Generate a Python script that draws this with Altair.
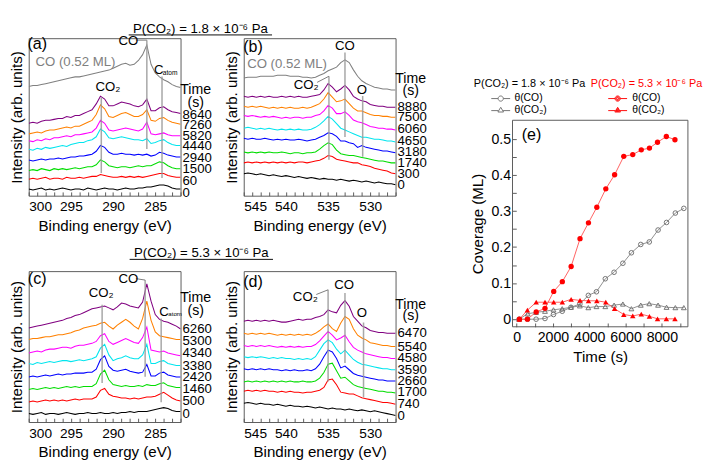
import altair as alt
import pandas as pd

FONT = "Liberation Sans"
COLORS = ["#000000", "#ff0000", "#00dd00", "#0000ff", "#00e5ee", "#ff00ff", "#ff8000", "#800080"]
GRAY = "#808080"

E_C = [300.0, 299.5, 299.0, 298.5, 298.0, 297.5, 297.0, 296.5, 296.0, 295.5, 295.0, 294.5, 294.0,
       293.5, 293.0, 292.5, 292.0, 291.5, 291.0, 290.5, 290.0, 289.5, 289.0, 288.5, 288.0, 287.5,
       287.0, 286.5, 286.0, 285.5, 285.0, 284.5, 284.0, 283.5, 283.0, 282.5, 282.0]
E_O = [545.0, 544.5, 544.0, 543.5, 543.0, 542.5, 542.0, 541.5, 541.0, 540.5, 540.0, 539.5, 539.0,
       538.5, 538.0, 537.5, 537.0, 536.5, 536.0, 535.5, 535.0, 534.5, 534.0, 533.5, 533.0, 532.5,
       532.0, 531.5, 531.0, 530.5, 530.0, 529.5, 529.0, 528.5, 528.0, 527.5, 527.0]
TICKS_C = [282, 283, 284, 285, 286, 287, 288, 289, 290, 291, 292, 293, 294, 295, 296, 297, 298, 299, 300]
TICKS_O = [527, 528, 529, 530, 531, 532, 533, 534, 535, 536, 537, 538, 539, 540, 541, 542, 543, 544, 545]

# ---------------- panel (a): C 1s, 1.8e-6 Pa ----------------
TIMES_A = ["0", "60", "1500", "2940", "4440", "5820", "7260", "8640"]
CURVES_A = [
    [7,6,7,8,6,7,6,7,8,7,6,7,7,6,8,7,6,7,8,7,7,6,7,8,7,7,8,8,9,9,10,11,11,10,8,7,7],
    [17,18,17,18,19,17,18,18,17,19,18,18,19,18,19,20,20,22,21,20,19,19,20,19,20,19,20,19,20,21,22,23,23,21,20,19,19],
    [26,27,26,28,27,26,28,27,28,27,28,29,28,29,30,30,32,37,35,31,30,29,30,30,29,30,31,30,31,31,33,35,34,31,29,28,28],
    [37,36,37,38,37,38,38,39,38,39,40,40,41,41,42,43,46,52,50,45,43,43,44,43,43,42,43,42,43,41,42,45,44,42,41,40,40],
    [48,47,49,48,50,49,50,51,52,51,53,54,55,55,57,58,61,69,66,60,59,60,61,60,59,58,58,57,59,54,55,57,58,55,53,52,52],
    [57,56,58,57,59,58,60,60,61,62,61,63,63,64,65,66,70,78,75,68,67,68,69,70,69,68,67,69,76,64,63,64,65,63,62,62,62],
    [64,65,66,65,67,68,68,69,70,71,70,72,72,74,76,78,84,94,90,82,81,83,85,86,84,82,82,84,89,78,77,80,81,78,76,75,74],
    [75,76,75,77,78,78,79,80,80,82,81,83,83,85,87,89,95,103,100,93,93,95,97,96,95,93,92,94,100,88,88,91,92,89,87,86,85],
]
GRAY_A = [113,114,114,115,116,117,118,119,120,121,122,123,123,124,125,126,127,128,129,130,132,134,136,137,135,136,140,146,156,136,127,123,120,118,115,113,112]
LABV_A = [2.7, 15, 27.4, 39, 51, 61.7, 73.4, 83.4]
HDR_A = [110, 96.7]

# ---------------- panel (b): O 1s, 1.8e-6 Pa ----------------
TIMES_B = ["0", "300", "1740", "3180", "4650", "6060", "7500", "8880"]
CURVES_B = [
    [24,25,24,23,24,23,22,23,22,21,22,21,20,21,20,19,20,19,18,19,18,18,17,18,17,16,17,16,15,16,15,14,15,14,13,13,12],
    [36,37,36,37,36,37,36,37,36,37,36,37,36,37,37,36,37,38,39,41,44,43,40,39,38,37,36,36,34,33,32,30,29,28,27,25,24],
    [48,47,48,47,48,47,48,47,47,48,47,46,47,47,46,47,47,48,51,55,58,56,50,46,45,44,44,43,42,41,40,39,38,38,37,36,36],
    [63,62,63,62,62,63,62,61,62,61,62,61,61,62,61,60,61,62,64,66,69,68,65,60,60,58,57,53,55,53,52,51,50,49,49,48,47],
    [74,75,74,73,74,73,74,73,72,73,72,73,72,73,72,72,73,75,78,82,87,84,79,74,72,70,68,66,64,64,63,62,62,61,60,60,59],
    [88,87,88,87,86,87,86,87,86,85,86,85,86,86,85,86,86,88,89,93,99,96,90,90,92,88,83,81,80,78,76,75,74,74,73,73,72],
    [98,97,98,97,98,97,96,97,96,97,96,97,96,96,97,96,97,99,101,106,113,108,103,104,106,101,96,93,93,91,89,88,88,87,87,86,86],
    [109,108,109,108,109,108,109,108,108,109,108,109,108,109,108,108,109,110,111,116,123,119,114,117,121,116,109,106,104,103,100,99,98,98,97,97,97],
]
GRAY_B = [129,130,130,130,131,131,131,131,132,132,132,131,131,131,130,130,129,130,132,134,137,139,141,146,149,146,138,131,126,123,121,119,118,117,117,116,116]
LABV_B = [11, 23.3, 36, 47.7, 60, 72.7, 86, 96.7]
HDR_B = [129.3, 116]

# ---------------- panel (c): C 1s, 5.3e-6 Pa ----------------
TIMES_C = ["0", "500", "1460", "2420", "3380", "4340", "5300", "6260"]
CURVES_C = [
    [9,8,9,10,8,9,9,8,9,10,9,8,9,9,10,9,9,10,9,9,10,9,10,10,11,10,11,11,11,12,13,14,15,14,12,11,11],
    [21,22,21,22,23,22,23,22,23,22,23,24,23,24,24,24,26,33,35,29,27,26,25,25,24,25,24,25,26,26,27,29,31,28,25,23,22],
    [34,35,34,35,36,35,36,35,36,37,36,37,36,37,37,37,40,50,54,44,39,38,37,38,37,37,38,37,39,38,38,40,41,38,37,36,36],
    [47,48,47,48,49,48,49,50,49,50,50,51,51,51,52,52,55,65,69,58,54,53,54,55,53,52,51,52,60,48,48,51,52,49,48,47,47],
    [61,60,62,61,62,63,62,63,64,64,63,64,65,64,65,66,68,77,81,70,64,66,67,69,67,66,66,70,81,61,61,63,64,61,60,59,59],
    [72,73,74,73,75,76,76,77,78,78,77,79,80,80,81,82,84,90,92,84,81,83,85,87,85,83,82,88,99,75,74,73,74,72,71,70,69],
    [86,87,87,88,89,89,90,91,91,92,93,95,96,98,99,100,101,103,104,100,97,101,104,107,104,100,97,108,126,106,94,90,89,88,87,86,86],
    [98,99,100,101,102,103,104,105,106,108,109,111,112,114,116,118,119,120,121,119,117,120,124,123,121,120,119,125,144,126,112,107,105,104,102,100,97],
]
LABV_C = [8.3, 21.3, 34, 46.7, 58.3, 71.3, 84, 96.7]
HDR_C = [130, 116.7]

# ---------------- panel (d): O 1s, 5.3e-6 Pa ----------------
TIMES_D = ["0", "740", "1700", "2660", "3590", "4580", "5540", "6470"]
CURVES_D = [
    [20,21,20,19,20,19,19,18,19,18,17,18,17,17,16,17,16,15,16,15,14,15,14,14,13,14,13,12,13,12,11,12,11,10,9,8,7],
    [33,34,33,34,33,34,33,33,32,33,32,33,32,32,31,32,32,33,34,37,45,46,40,32,31,30,30,28,26,25,24,23,22,21,21,20,19],
    [43,44,43,44,43,44,43,44,43,44,43,44,43,43,44,43,43,44,47,53,62,63,55,47,48,44,40,38,37,36,35,34,33,33,32,32,31],
    [57,56,57,56,57,56,57,56,56,55,56,55,56,55,55,56,55,57,62,70,77,75,68,58,60,56,52,50,49,48,47,46,45,45,44,44,44],
    [70,69,70,69,70,69,68,69,68,69,68,68,67,68,67,68,67,70,77,84,88,85,78,73,77,72,67,64,62,61,60,59,58,57,57,56,56],
    [82,81,82,81,82,81,82,81,80,81,80,81,80,81,80,81,81,83,87,92,97,93,88,90,93,86,80,77,75,73,72,71,70,69,69,68,68],
    [95,94,95,94,95,94,95,94,93,94,93,94,93,94,93,94,93,95,98,102,105,100,97,106,113,110,100,93,90,88,85,84,83,82,82,81,81],
    [108,109,108,109,108,109,108,109,108,107,107,108,109,110,109,110,110,112,113,115,120,118,117,125,130,124,113,108,103,101,98,97,96,96,95,95,95],
]
LABV_D = [6.7, 19.3, 31.6, 44, 56, 68.3, 80.6, 95]
HDR_D = [126.6, 114]

# ---------------- panel (e): coverage ----------------
T_GRAY = [135, 603, 1070, 1559, 2026, 2509, 2992, 3481, 3948, 4395, 4883, 5366, 5851, 6320, 6837, 7305, 7790, 8257, 8742, 9209]
CO_GRAY = [0, 0, 0, 0.002, 0.013, 0.022, 0.033, 0.042, 0.066, 0.076, 0.112, 0.130, 0.155, 0.184, 0.207, 0.214, 0.247, 0.268, 0.294, 0.307]
CO2_GRAY = [0, 0.015, 0.019, 0.022, 0.026, 0.029, 0.033, 0.037, 0.032, 0.035, 0.035, 0.039, 0.042, 0.029, 0.039, 0.043, 0.039, 0.033, 0.032, 0.032]
T_RED = [150, 590, 1075, 1560, 2040, 2515, 3000, 3490, 3955, 4415, 4910, 5395, 5900, 6395, 6865, 7315, 7760, 8245, 8720]
CO_RED = [0, 0, 0.020, 0.030, 0.077, 0.104, 0.146, 0.223, 0.267, 0.310, 0.361, 0.400, 0.451, 0.456, 0.469, 0.474, 0.490, 0.506, 0.497]
CO2_RED = [0, 0.025, 0.047, 0.047, 0.047, 0.047, 0.055, 0.052, 0.051, 0.051, 0.047, 0.029, 0.013, 0.009, 0.014, 0.008, 0.001, 0.001, 0.001]
E_XDOM = [-230, 9434]
E_YDOM = [-0.021, 0.551]

TITLE_1 = "P(CO\u2082) = 1.8 \u00d7 10\u207b\u2076 Pa"
TITLE_2 = "P(CO\u2082) = 5.3 \u00d7 10\u207b\u2076 Pa"
CO2 = "CO\u2082"

W = 161
H1 = 167
H2 = 160


def spectrum_panel(E, ticks, xdom, H, ph, curves, times, labv, hdr, gray,
                   vlines, leaders, texts, title_spec):
    rows = []
    for t, vals in zip(times, curves):
        for e, v in zip(E, vals):
            rows.append({"E": e, "v": v, "t": t})
    df = pd.DataFrame(rows)
    xsc = alt.Scale(domain=xdom, nice=False, zero=False)
    ysc = alt.Scale(domain=[0, H], nice=False, zero=False)
    X = alt.X("E:Q", scale=xsc, axis=alt.Axis(
        values=ticks, labelExpr="datum.value % 5 == 0 ? datum.value : ''",
        title="Binding energy (eV)", tickSize={"expr": "-4"}, labelPadding=9,
        labelFontSize=14.5, titleFontSize=16, titlePadding=5, tickColor="#555555"))
    Y = alt.Y("v:Q", scale=ysc, axis=alt.Axis(
        title="Intensity (arb. units)", labels=False, ticks=False,
        titleFontSize=16, titlePadding=5))
    layers = [alt.Chart(df).mark_line(strokeWidth=1.1, clip=True).encode(
        x=X, y=Y,
        color=alt.Color("t:N", scale=alt.Scale(domain=times, range=COLORS), legend=None))]
    if gray is not None:
        gdf = pd.DataFrame({"E": E, "v": gray})
        layers.append(alt.Chart(gdf).mark_line(strokeWidth=1.1, color=GRAY, clip=True).encode(x=X, y=Y))
    vdf = pd.DataFrame(vlines, columns=["E", "v", "v2"])
    layers.append(alt.Chart(vdf).mark_rule(color="#999999", strokeWidth=1.6, opacity=0.85).encode(
        x=X, y=Y, y2="v2:Q"))
    ldf = pd.DataFrame(leaders, columns=["E", "v", "E2", "v2"])
    layers.append(alt.Chart(ldf).mark_rule(color="#777777", strokeWidth=1).encode(
        x=X, y=Y, x2="E2:Q", y2="v2:Q"))
    lab = pd.DataFrame({"E": [xdom[1]] * len(times), "v": labv, "txt": times})
    layers.append(alt.Chart(lab).mark_text(align="left", baseline="middle", dx=2, fontSize=14,
                                           font=FONT, color="black").encode(x=X, y=Y, text="txt:N"))
    hdf = pd.DataFrame({"E": [xdom[1], xdom[1]], "v": hdr, "txt": ["Time", "(s)"]})
    layers.append(alt.Chart(hdf).mark_text(align="center", baseline="middle", dx=16, fontSize=15,
                                           font=FONT, color="black").encode(x=X, y=Y, text="txt:N"))
    for (e, v, txt, size, col, al) in texts:
        tdf = pd.DataFrame({"E": [e], "v": [v], "txt": [txt]})
        layers.append(alt.Chart(tdf).mark_text(align=al, baseline="middle", fontSize=size,
                                               font=FONT, color=col).encode(x=X, y=Y, text="txt:N"))
    if title_spec is not None:
        ttxt, cx, by, x0, x1, uy = title_spec
        one = pd.DataFrame({"k": [0]})
        layers.append(alt.Chart(one).mark_text(text=ttxt, align="center", baseline="alphabetic",
                                               fontSize=14, font=FONT, color="black").encode(
            x=alt.value(cx), y=alt.value(by)))
        layers.append(alt.Chart(one).mark_rule(color="black", strokeWidth=1).encode(
            x=alt.value(x0), x2=alt.value(x1), y=alt.value(uy)))
    return alt.layer(*layers).properties(width=W, height=ph)


pa = spectrum_panel(
    E_C, TICKS_C, [300, 282], 163, H1, CURVES_A, TIMES_A, LABV_A, HDR_A, GRAY_A,
    vlines=[(291.4, 101.7, 23.4), (286.0, 161, 48.4), (284.2, 123.4, 18.4)],
    leaders=[(287.3, 161, 286.0, 161)],
    texts=[(299.0, 156.7, "(a)", 17, "black", "center"),
           (299.2, 138.4, "CO (0.52 ML)", 14, GRAY, "left"),
           (290.6, 112.4, CO2, 14, "black", "center"),
           (288.2, 160, "CO", 14, "black", "center"),
           (284.6, 129.5, "C", 14, "black", "center"),
           (284.1, 126.5, "atom", 7, "black", "left")],
    title_spec=(TITLE_1, 182, -6, 106, 258, -3.5))

pb = spectrum_panel(
    E_O, TICKS_O, [545, 527], 172.7, H1, CURVES_B, TIMES_B, LABV_B, HDR_B, GRAY_B,
    vlines=[(534.9, 131, 39.3), (533.0, 157, 64.3), (530.9, 109.3, 42.7)],
    leaders=[(536.3, 124.3, 534.9, 131)],
    texts=[(543.9, 162.7, "(b)", 17, "black", "center"),
           (544.6, 143.7, "CO (0.52 ML)", 14, GRAY, "left"),
           (537.6, 121, CO2, 14, "black", "center"),
           (533.0, 163.5, "CO", 14, "black", "center"),
           (531.0, 115.5, "O", 14, "black", "center")],
    title_spec=None)

pc = spectrum_panel(
    E_C, TICKS_C, [300, 282], 157.3, H2, CURVES_C, TIMES_C, LABV_C, HDR_C, None,
    vlines=[(291.3, 122.3, 40.7), (286.2, 148, 47.3), (284.3, 108, 20.7)],
    leaders=[(287.3, 149.5, 286.2, 148)],
    texts=[(299.0, 149, "(c)", 17, "black", "center"),
           (291.4, 134, CO2, 14, "black", "center"),
           (288.2, 149, "CO", 14, "black", "center"),
           (283.95, 114.7, "C", 14, "black", "center"),
           (283.45, 112, "atom", 6.5, "black", "left")],
    title_spec=(TITLE_2, 183, -15, 107, 259, -12.5))

pd_ = spectrum_panel(
    E_O, TICKS_O, [545, 527], 161.6, H2, CURVES_D, TIMES_D, LABV_D, HDR_D, None,
    vlines=[(535.0, 141.6, 43.3), (533.0, 138.3, 63.3), (530.8, 106.6, 26.6)],
    leaders=[(536.4, 136.6, 535.0, 141.6)],
    texts=[(543.9, 150, "(d)", 17, "black", "center"),
           (537.7, 133.3, CO2, 14, "black", "center"),
           (533.1, 146.6, "CO", 14, "black", "center"),
           (531.0, 116, "O", 14, "black", "center")],
    title_spec=None)

# ---------------- panel (e) ----------------
E_CELL_H = 306     # cell spans from the top row's top to the frame bottom
E_FRAME_TOP = 87   # frame top inside the cell
ROW2_OFFSET = 247  # distance from top row's top to bottom row's top

df_e = pd.concat([
    pd.DataFrame({"time": T_GRAY, "cov": CO_GRAY, "s": "g_co"}),
    pd.DataFrame({"time": T_GRAY, "cov": CO2_GRAY, "s": "g_co2"}),
    pd.DataFrame({"time": T_RED, "cov": CO_RED, "s": "r_co"}),
    pd.DataFrame({"time": T_RED, "cov": CO2_RED, "s": "r_co2"}),
], ignore_index=True)

EX = alt.X("time:Q", scale=alt.Scale(domain=E_XDOM, nice=False, zero=False), axis=alt.Axis(
    values=[0, 1000, 2000, 3000, 4000, 5000, 6000, 7000, 8000, 9000],
    labelExpr="datum.value % 2000 == 0 ? datum.value : ''",
    title="Time (s)", tickSize={"expr": "-4"}, labelPadding=8, labelFontSize=15,
    titleFontSize=16, titlePadding=5, tickColor="#555555"))
EY = alt.Y("cov:Q", scale=alt.Scale(domain=E_YDOM, nice=False, zero=False, range=[E_CELL_H, E_FRAME_TOP]), axis=alt.Axis(
    values=[0, 0.05, 0.1, 0.15, 0.2, 0.25, 0.3, 0.35, 0.4, 0.45, 0.5],
    labelExpr="datum.value == 0 ? '0' : (abs(datum.value * 10 - round(datum.value * 10)) < 0.001 ? format(datum.value, '.1f') : '')",
    title="Coverage (ML)", tickSize={"expr": "-4"}, labelPadding=6, labelFontSize=15,
    titleFontSize=16, titlePadding=6, tickColor="#555555"))

base_e = alt.Chart(df_e)


def circ(r):
    return "M{0},0A{0},{0},0,1,1,-{0},0A{0},{0},0,1,1,{0},0".format(r)


PATH_C = "M-2,0L-0.55,0M0.55,0L2,0" + circ(0.55)
PATH_T = "M-2,0.15L-0.5,0.15M0.5,0.15L2,0.15M0,-0.55L0.6,0.45L-0.6,0.45Z"
PATH_C_SOLID = PATH_C + circ(0.38) + circ(0.2)
PATH_T_SOLID = PATH_T + "M0,-0.3L0.36,0.3L-0.36,0.3ZM0,-0.05L0.13,0.18L-0.13,0.18Z"
frame_df = pd.DataFrame({"time": [E_XDOM[0]], "cov": [E_YDOM[0]], "t2": [E_XDOM[1]], "c2": [E_YDOM[1]]})


def leg(title, tcolor, lx, soff, loff):
    return alt.Legend(title=title, orient="none", legendX=lx, legendY=43,
                      titleFontSize=11.5, titleFontWeight="normal", titleFont=FONT, titleColor=tcolor,
                      labelFontSize=11, labelFont=FONT, labelColor="black", symbolSize=100,
                      symbolStrokeWidth=1, symbolOffset=soff, labelOffset=loff, rowPadding=0,
                      titlePadding=4, padding=0)


SHAPE_DOMAIN = ["\u03b8(CO)", "\u03b8(CO\u2082)"]

e_layers = [
    alt.Chart(frame_df).mark_rect(fillOpacity=0, stroke="#555555", strokeWidth=1).encode(
        x=EX, y=EY, x2="t2:Q", y2="c2:Q"),
    base_e.transform_filter("indexof(datum.s, 'g_') == 0").mark_line(color="#8a8a8a", strokeWidth=1).encode(x=EX, y=EY, detail="s:N"),
    base_e.transform_filter("indexof(datum.s, 'r_') == 0").mark_line(color="#ff5a5a", strokeWidth=1).encode(x=EX, y=EY, detail="s:N"),
    base_e.transform_filter("datum.s == 'g_co'").mark_point(shape="circle", filled=False, color="#707070", size=24, strokeWidth=1, opacity=1).encode(x=EX, y=EY),
    base_e.transform_filter("datum.s == 'g_co2'").mark_point(shape="triangle-up", filled=False, color="#707070", size=26, strokeWidth=1, opacity=1).encode(x=EX, y=EY),
    base_e.transform_filter("datum.s == 'r_co'").mark_point(shape="circle", filled=True, color="#ff0000", size=32, opacity=1).encode(x=EX, y=EY),
    base_e.transform_filter("datum.s == 'r_co2'").mark_point(shape="triangle-up", filled=True, color="#ff0000", size=34, opacity=1).encode(x=EX, y=EY),
    base_e.transform_filter("false").mark_point(filled=False, color="#707070", strokeWidth=1, opacity=1).encode(
        x=EX, y=EY,
        shape=alt.Shape("s:N", scale=alt.Scale(domain=SHAPE_DOMAIN, range=[PATH_C, PATH_T]),
                        legend=leg(TITLE_1, "black", -41, 23, 9))),
    base_e.transform_filter("false").mark_point(filled=False, color="#ff0000", strokeWidth=1, opacity=1).encode(
        x=EX, y=EY,
        shape=alt.Shape("s:N", scale=alt.Scale(domain=SHAPE_DOMAIN, range=[PATH_C_SOLID, PATH_T_SOLID]),
                        legend=leg(TITLE_2, "#ff0000", 83, 23, 10))),
    alt.Chart(pd.DataFrame({"time": [275], "cov": [0.509], "txt": ["(e)"]})).mark_text(
        align="left", baseline="middle", fontSize=17, font=FONT, color="black").encode(x=EX, y=EY, text="txt:N"),
]
pe = alt.layer(*e_layers).resolve_scale(shape="independent").properties(
    width=186, height=E_CELL_H, view=alt.ViewBackground(strokeOpacity=0))


def blank(w, h):
    return alt.Chart(pd.DataFrame({"k": [0]})).mark_point(opacity=0, size=1).encode(
        x=alt.value(w / 2), y=alt.value(h / 2)).properties(
        width=w, height=h, view=alt.ViewBackground(strokeOpacity=0))


GAP1 = 67
GAP2 = 124
cells = [pa, blank(GAP1, 1), pb, blank(GAP2, 1), pe,
         pc, blank(GAP1, 1), pd_, blank(GAP2, 1), blank(186, 1)]

chart = alt.concat(*cells, columns=5, align="none", bounds="flush",
                   spacing={"row": ROW2_OFFSET - E_CELL_H, "column": 0}).resolve_scale(
    color="independent", shape="independent").properties(
    padding={"left": 0, "top": 0, "right": 0, "bottom": 0}).configure(
    font=FONT, padding={"left": 0, "top": 0, "right": 0, "bottom": 0}).configure_view(
    stroke="#555555", strokeWidth=1).configure_axis(
    grid=False, domain=False, labelFont=FONT, titleFont=FONT, titleFontWeight="normal",
    labelColor="black", titleColor="black")

chart.save("out.html", embed_options={"renderer": "svg", "actions": False})
